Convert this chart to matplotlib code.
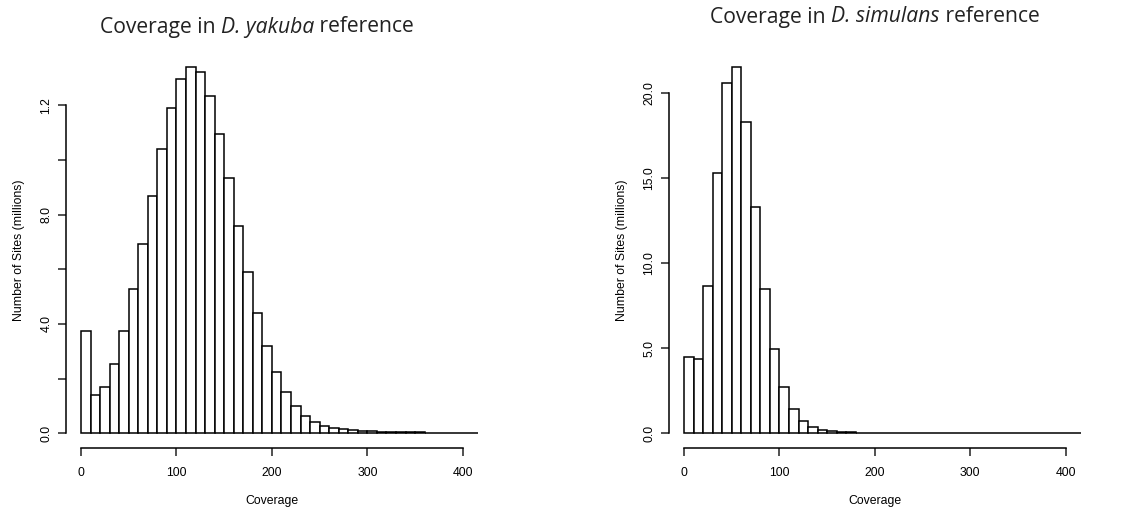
import numpy as np
import matplotlib
matplotlib.use("Agg")
import matplotlib.pyplot as plt

# histogram counts (millions of sites) per 10x coverage bin, starting at 0
bin_width = 10
yakuba_counts = [3.76, 1.40, 1.69, 2.52, 3.76, 5.28, 6.92, 8.67, 10.40, 11.88,
                 12.94, 13.40, 13.21, 12.34, 10.96, 9.32, 7.58, 5.90, 4.41, 3.19,
                 2.23, 1.51, 1.00, 0.65, 0.43, 0.28, 0.21, 0.15, 0.11, 0.09,
                 0.07, 0.06, 0.05, 0.045, 0.04, 0.035, 0.03, 0.025, 0.02, 0.018,
                 0.015, 0.012]
simulans_counts = [4.46, 4.38, 8.67, 15.32, 20.63, 21.55, 18.30, 13.29, 8.51, 4.95,
                   2.70, 1.41, 0.72, 0.39, 0.22, 0.12, 0.07, 0.05, 0.035, 0.025,
                   0.02, 0.015, 0.012, 0.01, 0.009, 0.008, 0.007, 0.006, 0.005, 0.005,
                   0.004, 0.004, 0.003, 0.003, 0.003, 0.002, 0.002, 0.002, 0.002, 0.001,
                   0.001, 0.001]

x_ticks = [0, 100, 200, 300, 400]
yakuba_yticks = [0, 2, 4, 6, 8, 10, 12]
yakuba_ylabels = ["0.0", "", "4.0", "", "8.0", "", "1.2"]
simulans_yticks = [0, 5, 10, 15, 20]
simulans_ylabels = ["0.0", "5.0", "10.0", "15.0", "20.0"]

# title pieces: (text, italic)
yakuba_title = [("Coverage in ", False), ("D. yakuba", True), (" reference", False)]
simulans_title = [("Coverage in ", False), ("D. simulans", True), (" reference", False)]

plt.rcParams['font.family'] = ['Liberation Sans', 'DejaVu Sans']

fig = plt.figure(figsize=(11.22, 5.12), dpi=100)
ax1 = fig.add_axes([0.0586, 0.125, 0.3675, 0.773])
ax2 = fig.add_axes([0.596, 0.125, 0.3675, 0.773])


def draw_hist(ax, counts, yticks, ylabels):
    edges = np.arange(len(counts)) * bin_width
    ax.bar(edges, counts, width=bin_width, align='edge', color='white',
           edgecolor='black', linewidth=1.1)
    ymax = max(counts)
    ax.set_xlim(-16, 416)
    ax.set_ylim(-0.04 * ymax, 1.04 * ymax)
    for s in ['top', 'right']:
        ax.spines[s].set_visible(False)
    ax.spines['left'].set_bounds(yticks[0], yticks[-1])
    ax.spines['bottom'].set_bounds(x_ticks[0], x_ticks[-1])
    for s in ['left', 'bottom']:
        ax.spines[s].set_linewidth(1.1)
    ax.set_xticks(x_ticks)
    ax.set_xticklabels([str(v) for v in x_ticks])
    ax.set_yticks(yticks)
    ax.set_yticklabels(ylabels, rotation=90, va='center')
    ax.tick_params(length=5.5, width=1.1, labelsize=8.8, color='#222222')
    ax.tick_params(axis='x', pad=8)
    ax.tick_params(axis='y', pad=4)
    ax.set_xlabel("Coverage", fontsize=8.8, labelpad=12)
    ax.set_ylabel("Number of Sites (millions)", fontsize=8.8, labelpad=11)


def draw_title(pieces, xc, yc):
    # lay out the mixed roman/italic title piece by piece, centred on xc
    renderer = fig.canvas.get_renderer()
    texts = []
    for s, it in pieces:
        t = fig.text(0, yc, s, fontsize=15.2, family='Open Sans', color='#222222',
                     style='italic' if it else 'normal', va='center', ha='left')
        texts.append(t)
    widths = [t.get_window_extent(renderer).width / fig.bbox.width for t in texts]
    x = xc - sum(widths) / 2
    for t, w in zip(texts, widths):
        t.set_x(x)
        x += w


draw_hist(ax1, yakuba_counts, yakuba_yticks, yakuba_ylabels)
draw_hist(ax2, simulans_counts, simulans_yticks, simulans_ylabels)

draw_title(yakuba_title, 257 / 1122, 1 - 27 / 512)
draw_title(simulans_title, 875 / 1122, 1 - 17 / 512)

fig.savefig("out.png", dpi=100)
